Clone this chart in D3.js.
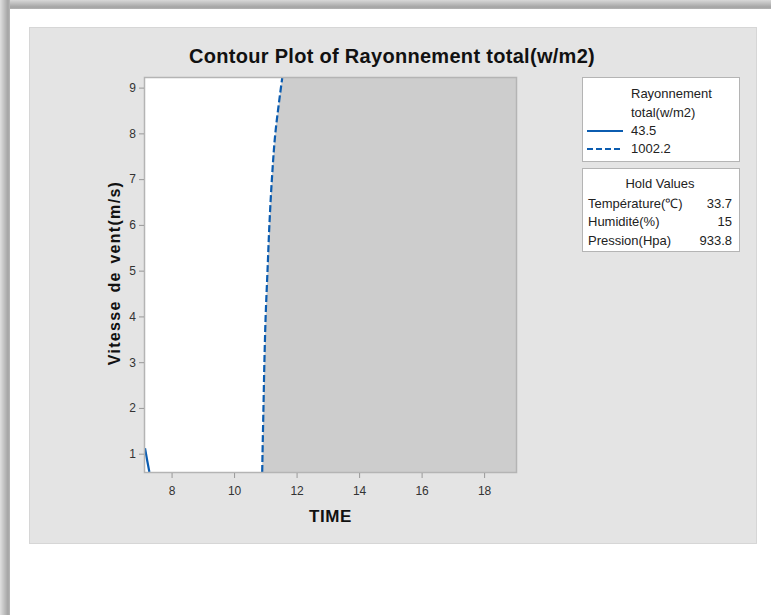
<!DOCTYPE html>
<html>
<head>
<meta charset="utf-8">
<script src="https://cdn.jsdelivr.net/npm/d3@7"></script>
<style>
  body { margin: 0; background: #fff; }
  svg { display: block; font-family: "Liberation Sans", Arial, sans-serif; }
  .tick text { fill: #333; font-size: 12px; }
  .tick line { stroke: #999; }
  .domain { display: none; }
</style>
</head>
<body>
<svg width="771" height="615"></svg>
<script>
// chart data
var xDomain = [7.15, 19.02];
var yDomain = [0.6, 9.21];
var xTicks = [8, 10, 12, 14, 16, 18];
var yTicks = [1, 2, 3, 4, 5, 6, 7, 8, 9];

// contour level 1002.2 (dashed), bottom to top
var contourHighX = [10.90, 10.91, 10.94, 10.97, 11.01, 11.07, 11.13, 11.21, 11.32, 11.54];
var contourHighY = [0.6, 1, 2, 3, 4, 5, 6, 7, 8, 9.21];
// contour level 43.5 (solid)
var contourLowX = [7.15, 7.22, 7.29];
var contourLowY = [1.12, 0.85, 0.6];

var legendTitle = ['Rayonnement', 'total(w/m2)'];
var legendLevels = ['43.5', '1002.2'];
var holdNames = ['Température(℃)', 'Humidité(%)', 'Pression(Hpa)'];
var holdValues = ['33.7', '15', '933.8'];

var svg = d3.select('svg');
var blue = '#0b5cb0';

// page shadow
var defs = svg.append('defs');
var gTop = defs.append('linearGradient').attr('id', 'shTop').attr('x1', 0).attr('y1', 0).attr('x2', 0).attr('y2', 1);
gTop.append('stop').attr('offset', '0%').attr('stop-color', '#d8d8d8');
gTop.append('stop').attr('offset', '80%').attr('stop-color', '#a4a4a4');
gTop.append('stop').attr('offset', '100%').attr('stop-color', '#b4b4b4');
var gLeft = defs.append('linearGradient').attr('id', 'shLeft').attr('x1', 0).attr('y1', 0).attr('x2', 1).attr('y2', 0);
gLeft.append('stop').attr('offset', '0%').attr('stop-color', '#e0e0e0');
gLeft.append('stop').attr('offset', '80%').attr('stop-color', '#a4a4a4');
gLeft.append('stop').attr('offset', '100%').attr('stop-color', '#b8b8b8');
svg.append('rect').attr('x', 0).attr('y', 0).attr('width', 771).attr('height', 9).attr('fill', 'url(#shTop)');
svg.append('rect').attr('x', 0).attr('y', 0).attr('width', 10).attr('height', 615).attr('fill', 'url(#shLeft)');

// gray panel
svg.append('rect')
    .attr('x', 29.5).attr('y', 27.5).attr('width', 727).attr('height', 516)
    .attr('fill', '#e4e4e4').attr('stroke', '#d6d6d6');

var plot = {l: 145, t: 78, r: 516, b: 472};
var x = d3.scaleLinear().domain(xDomain).range([plot.l, plot.r]);
var y = d3.scaleLinear().domain(yDomain).range([plot.b, plot.t]);

// plot background
svg.append('rect')
    .attr('x', plot.l).attr('y', plot.t)
    .attr('width', plot.r - plot.l).attr('height', plot.b - plot.t)
    .attr('fill', '#fff');

// shaded region right of the high contour
var highPts = contourHighX.map(function(d, i) { return [x(d), y(contourHighY[i])]; });
var line = d3.line().curve(d3.curveCatmullRom);
var edge = line(highPts);
svg.append('path')
    .attr('d', edge + 'L' + [x(xDomain[1]), y(yDomain[1])] + 'L' + [x(xDomain[1]), y(yDomain[0])] + 'Z')
    .attr('fill', '#cdcdcd');

svg.append('path')
    .attr('d', edge)
    .attr('fill', 'none').attr('stroke', blue)
    .attr('stroke-width', 2.2).attr('stroke-dasharray', '7,3');

var lowPts = contourLowX.map(function(d, i) { return [x(d), y(contourLowY[i])]; });
svg.append('path')
    .attr('d', d3.line()(lowPts))
    .attr('fill', 'none').attr('stroke', blue).attr('stroke-width', 2.2);

// plot frame
svg.append('rect')
    .attr('x', plot.l - 0.5).attr('y', plot.t - 0.5)
    .attr('width', plot.r - plot.l + 1).attr('height', plot.b - plot.t + 1)
    .attr('fill', 'none').attr('stroke', '#b4b4b4').attr('stroke-width', 1.5);

// axes
svg.append('g')
    .attr('transform', 'translate(0,' + (plot.b + 1) + ')')
    .call(d3.axisBottom(x).tickValues(xTicks).tickSize(5).tickPadding(8));
svg.append('g')
    .attr('transform', 'translate(' + (plot.l - 1) + ',0)')
    .call(d3.axisLeft(y).tickValues(yTicks).tickSize(5).tickPadding(3));

// titles
svg.append('text')
    .attr('x', 392).attr('y', 63)
    .attr('text-anchor', 'middle')
    .style('font-size', '20px').style('font-weight', 'bold').style('letter-spacing', '0.3px')
    .attr('fill', '#111')
    .text('Contour Plot of Rayonnement total(w/m2)');
svg.append('text')
    .attr('x', (plot.l + plot.r) / 2).attr('y', 522)
    .attr('text-anchor', 'middle')
    .style('font-size', '17px').style('font-weight', 'bold').style('letter-spacing', '0.6px')
    .attr('fill', '#111')
    .text('TIME');
svg.append('text')
    .attr('transform', 'translate(120,273) rotate(-90)')
    .attr('text-anchor', 'middle')
    .style('font-size', '16px').style('font-weight', 'bold')
    .style('letter-spacing', '1.3px').style('word-spacing', '2px')
    .attr('fill', '#111')
    .text('Vitesse de vent(m/s)');

// legend box
var lg = svg.append('g').style('font-size', '13px');
lg.append('rect').attr('x', 582.5).attr('y', 77.5).attr('width', 157).attr('height', 84)
    .attr('fill', '#fff').attr('stroke', '#b4b4b4');
lg.selectAll('.lt').data(legendTitle).enter().append('text')
    .attr('x', 631).attr('y', function(d, i) { return 98 + i * 19; })
    .attr('fill', '#222').text(function(d) { return d; });
lg.selectAll('.ll').data(legendLevels).enter().append('line')
    .attr('x1', 587).attr('x2', 623)
    .attr('y1', function(d, i) { return 131 + i * 18; })
    .attr('y2', function(d, i) { return 131 + i * 18; })
    .attr('stroke', blue).attr('stroke-width', 2.2)
    .attr('stroke-dasharray', function(d, i) { return i ? '6,3' : null; });
lg.selectAll('.lv').data(legendLevels).enter().append('text')
    .attr('x', 631).attr('y', function(d, i) { return 135 + i * 18; })
    .attr('fill', '#222').text(function(d) { return d; });

// hold values box
var hg = svg.append('g').style('font-size', '13px');
hg.append('rect').attr('x', 582.5).attr('y', 168.5).attr('width', 157).attr('height', 83)
    .attr('fill', '#fff').attr('stroke', '#b4b4b4');
hg.append('text').attr('x', 660).attr('y', 188).attr('text-anchor', 'middle')
    .attr('fill', '#222').text('Hold Values');
hg.selectAll('.hn').data(holdNames).enter().append('text')
    .attr('x', 588).attr('y', function(d, i) { return 207.5 + i * 18.5; })
    .attr('fill', '#222').text(function(d) { return d; });
hg.selectAll('.hv').data(holdValues).enter().append('text')
    .attr('x', 732).attr('y', function(d, i) { return 207.5 + i * 18.5; })
    .attr('text-anchor', 'end')
    .attr('fill', '#222').text(function(d) { return d; });
</script>
</body>
</html>
